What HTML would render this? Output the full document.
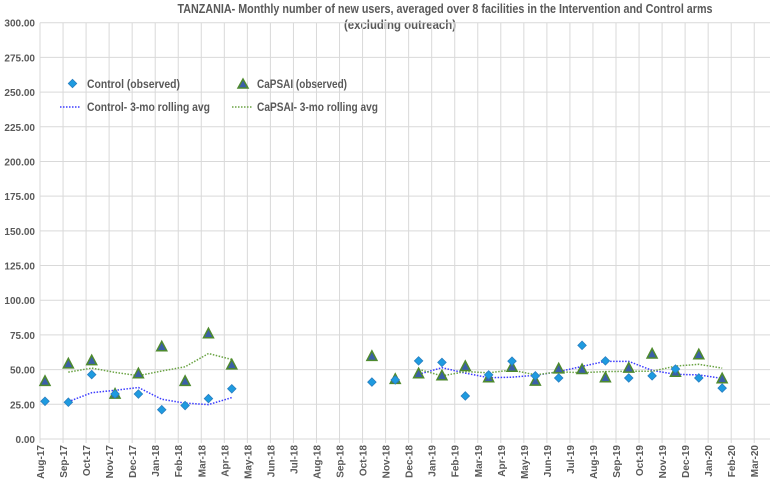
<!DOCTYPE html>
<html><head><meta charset="utf-8">
<style>
body{margin:0;background:#fff;}
svg{display:block;font-family:"Liberation Sans",Arial,sans-serif;}
</style></head>
<body>
<svg id="chart" width="777" height="480">
<text x="445" y="13" text-anchor="middle" font-size="12.5" font-weight="bold" fill="#595959" textLength="535" lengthAdjust="spacingAndGlyphs">TANZANIA- Monthly number of new users, averaged over 8 facilities in the Intervention and Control arms</text>
<text x="400" y="29" text-anchor="middle" font-size="12.5" font-weight="bold" fill="#595959" textLength="112" lengthAdjust="spacingAndGlyphs">(excluding outreach)</text>
<g id="grid"></g>
<g id="yticks"></g>
<g id="xticks"></g>
<g id="series"></g>
<g>
  <g>
    <rect x="69.5" y="80.5" width="6" height="6" transform="rotate(45 72.5 83.5)" fill="#1e9be0" stroke="#2a7fc0" stroke-width="0.8"/>
    <text x="87" y="88" font-size="12" font-weight="bold" fill="#595959" textLength="93" lengthAdjust="spacingAndGlyphs">Control (observed)</text>
  </g>
  <g>
    <polygon points="238,88 248,88 243,79" fill="#3b5fa8" stroke="#4e8a2e" stroke-width="1.5"/>
    <text x="257" y="88" font-size="12" font-weight="bold" fill="#595959" textLength="90" lengthAdjust="spacingAndGlyphs">CaPSAI (observed)</text>
  </g>
  <g>
    <line x1="60" y1="107" x2="81" y2="107" stroke="#3b3bff" stroke-width="1.5" stroke-dasharray="1.5,1.5"/>
    <text x="87" y="111" font-size="12" font-weight="bold" fill="#595959" textLength="123" lengthAdjust="spacingAndGlyphs">Control- 3-mo rolling avg</text>
  </g>
  <g>
    <line x1="232" y1="107" x2="253" y2="107" stroke="#6aa343" stroke-width="1.5" stroke-dasharray="1.5,1.5"/>
    <text x="257" y="111" font-size="12" font-weight="bold" fill="#595959" textLength="121" lengthAdjust="spacingAndGlyphs">CaPSAI- 3-mo rolling avg</text>
  </g>
</g>
</svg>
<script>
const months = ["Aug-17","Sep-17","Oct-17","Nov-17","Dec-17","Jan-18","Feb-18","Mar-18","Apr-18","May-18","Jun-18","Jul-18","Aug-18","Sep-18","Oct-18","Nov-18","Dec-18","Jan-19","Feb-19","Mar-19","Apr-19","May-19","Jun-19","Jul-19","Aug-19","Sep-19","Oct-19","Nov-19","Dec-19","Jan-20","Feb-20","Mar-20"];
const yTicks = [0,25,50,75,100,125,150,175,200,225,250,275,300];
const controlObs = [27.2,26.5,46.4,32.4,32.4,21.1,24.1,29.1,36.2,null,null,null,null,null,41,42.6,56.3,55.2,31,46.2,56.1,45.5,44,67.5,56.3,44,45.5,50.4,44,36.7];
const capsaiObs = [41.9,54.5,56.8,32.7,47.4,66.8,41.9,76.2,53.8,null,null,null,null,null,59.9,43.3,47.4,45.9,52.6,44.5,52.1,42.1,50.9,50.4,44.5,51.4,61.6,48.5,61.1,43.8];
const controlAvg = [null,26.9,33.4,35.1,37.1,28.6,25.9,24.8,29.8,null,null,null,null,null,null,null,46.6,51.4,47.5,44.2,44.5,45.9,48.5,52.3,56,55.9,49.4,46.6,46.2,43.7];
const capsaiAvg = [null,48.2,51.1,48,45.6,49,52,61.6,57.3,null,null,null,null,null,null,null,50.2,45.5,48.6,47.7,49.7,46.2,48.4,47.8,48.6,48.8,48.8,52.5,53.8,51.1];

const NS="http://www.w3.org/2000/svg";
const X0=40, XR=770, Y0=439, YTOP=22.7;
const tickX=i=>X0+i*23.04;
const ptX=i=>45+i*23.35;
const yS=v=>Y0-(v/300)*(Y0-YTOP);
function mk(tag,attrs,parent){const e=document.createElementNS(NS,tag);for(const k in attrs)e.setAttribute(k,attrs[k]);parent.appendChild(e);return e;}
const grid=document.getElementById('grid'),yt=document.getElementById('yticks'),xt=document.getElementById('xticks'),ser=document.getElementById('series');
yTicks.forEach(v=>{
  const l=mk('line',{x1:X0,x2:XR,y1:yS(v),y2:yS(v),stroke:'#d9d9d9','stroke-width':1},grid);
  
  
  const t=mk('text',{x:35,y:yS(v)+4,'text-anchor':'end','font-size':10,'font-weight':'bold',fill:'#595959'},yt);
  t.textContent=v.toFixed(2);
  
  
});
months.forEach((m,i)=>{
  const x=tickX(i);
  const l=mk('line',{x1:x,x2:x,y1:YTOP,y2:Y0+4,stroke:'#d9d9d9','stroke-width':1},grid);
  
  
  const t=mk('text',{x:x+4,y:Y0+6,'text-anchor':'end','font-size':10,'font-weight':'bold',fill:'#595959',transform:`rotate(-90 ${x+4} ${Y0+6})`},xt);
  t.textContent=m;
  
  
});
function line(arr,color,name){
  let d='',pen=false;
  arr.forEach((v,i)=>{if(v==null){pen=false;return;}d+=(pen?'L':'M')+ptX(i).toFixed(1)+','+yS(v).toFixed(1);pen=true;});
  const p=mk('path',{d:d,fill:'none',stroke:color,'stroke-width':1.5,'stroke-dasharray':'1.5,1.5'},ser);
  
  
}
line(controlAvg,'#3b3bff','control-rolling-avg-line');
line(capsaiAvg,'#6aa343','capsai-rolling-avg-line');
capsaiObs.forEach((v,i)=>{if(v==null)return;const x=ptX(i),y=yS(v);
  const p=mk('polygon',{points:`${x-5},${y+4.5} ${x+5},${y+4.5} ${x},${y-5}`,fill:'#3b5fa8',stroke:'#4e8a2e','stroke-width':1.5},ser);
  
  
});
controlObs.forEach((v,i)=>{if(v==null)return;const x=ptX(i),y=yS(v);
  const p=mk('rect',{x:x-3,y:y-3,width:6,height:6,transform:`rotate(45 ${x} ${y})`,fill:'#1e9be0',stroke:'#2a7fc0','stroke-width':0.8},ser);
  
  
});
</script>
</body></html>
